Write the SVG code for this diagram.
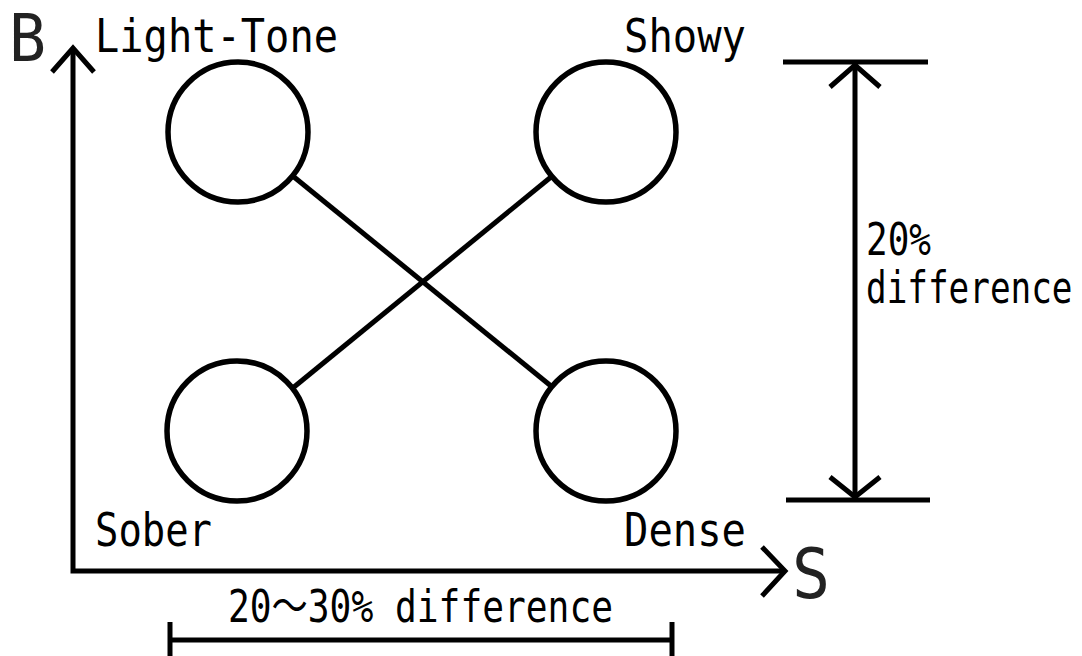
<svg xmlns="http://www.w3.org/2000/svg" width="1082" height="656" viewBox="0 0 1082 656">
  <style>
    .ln { stroke: #000; stroke-width: 5; fill: none; stroke-linecap: butt; }
    .arm { stroke: #000; stroke-width: 5; fill: none; stroke-linecap: butt; stroke-linejoin: miter; }
    .node { stroke: #000; stroke-width: 5.5; fill: #fff; }
    .t { font-family: "DejaVu Sans Mono", "Noto Sans CJK JP", monospace; fill: #000; }
    .lbl { font-size: 46px; }
    .dim { font-size: 44px; }
    .big { font-size: 69px; fill: #222; }
  </style>
  <rect width="1082" height="656" fill="#fff"/>

  <!-- axes -->
  <g id="axes">
    <polyline class="ln" points="73,49 73,571 783,571"/>
    <polyline class="arm" points="52,72 73,48 94,72"/>
    <polyline class="arm" points="762,547 785,571 762,596"/>
    <text class="t big" x="9" y="61" style="font-size:65px" textLength="37" lengthAdjust="spacingAndGlyphs">B</text>
    <text class="t big" x="792" y="598" textLength="38" lengthAdjust="spacingAndGlyphs">S</text>
  </g>

  <!-- connectors -->
  <g id="connectors">
    <line class="ln" x1="294" y1="177" x2="551" y2="386"/>
    <line class="ln" x1="294" y1="387" x2="551" y2="177"/>
  </g>

  <!-- nodes -->
  <g id="node-light-tone">
    <circle class="node" cx="238" cy="132" r="70"/>
    <text class="t lbl" x="95" y="52" textLength="243" lengthAdjust="spacingAndGlyphs">Light-Tone</text>
  </g>
  <g id="node-showy">
    <circle class="node" cx="606" cy="132" r="70"/>
    <text class="t lbl" x="624" y="52" textLength="122" lengthAdjust="spacingAndGlyphs">Showy</text>
  </g>
  <g id="node-sober">
    <circle class="node" cx="237" cy="431" r="70"/>
    <text class="t lbl" x="95" y="546" textLength="117" lengthAdjust="spacingAndGlyphs">Sober</text>
  </g>
  <g id="node-dense">
    <circle class="node" cx="606" cy="431" r="70"/>
    <text class="t lbl" x="624" y="546" textLength="122" lengthAdjust="spacingAndGlyphs">Dense</text>
  </g>

  <!-- vertical dimension -->
  <g id="dim-vertical">
    <line class="ln" x1="783" y1="62" x2="928" y2="62"/>
    <line class="ln" x1="786" y1="500" x2="930" y2="500"/>
    <line class="ln" x1="855" y1="64" x2="855" y2="498"/>
    <polyline class="arm" points="830,87 855,65 880,87"/>
    <polyline class="arm" points="830,477 855,497 880,477"/>
    <text class="t dim" x="866" y="255" textLength="65" lengthAdjust="spacingAndGlyphs">20%</text>
    <text class="t dim" transform="translate(866,303) scale(0.78,1)" x="0" y="0">difference</text>
  </g>

  <!-- horizontal dimension -->
  <g id="dim-horizontal">
    <line class="ln" x1="170" y1="640" x2="672" y2="640"/>
    <line class="ln" x1="170" y1="622" x2="170" y2="656"/>
    <line class="ln" x1="672" y1="622" x2="672" y2="656"/>
    <text class="t dim" x="228" y="622" textLength="385" lengthAdjust="spacingAndGlyphs">20～30% difference</text>
  </g>
</svg>
